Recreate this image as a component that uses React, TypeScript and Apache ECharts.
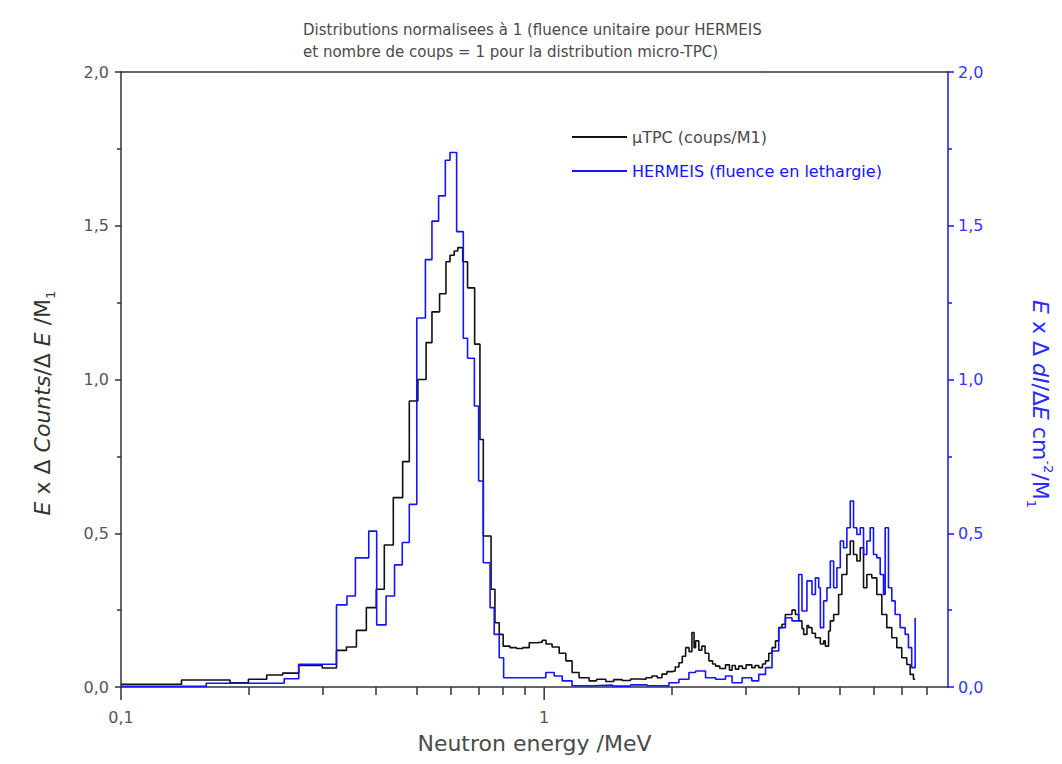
import React, { useEffect, useRef } from "react";
import * as echarts from "echarts";

// ---------- data ----------
const titleLines = [
  "Distributions normalisees à 1 (fluence unitaire pour HERMEIS",
  "et nombre de coups = 1 pour la distribution micro-TPC)",
];
const legendNames = ["µTPC (coups/M1)", "HERMEIS (fluence en lethargie)"];
const xAxisTitle = "Neutron energy /MeV";

const X_MIN = 0.1;
const X_MAX = 9;
const xLabelValues = [0.1, 1];
const xTickLabels = ["0,1", "1"];
const xMinorTickValues = [0.2, 0.3, 0.4, 0.5, 0.6, 0.7, 0.8, 0.9, 2, 3, 4, 5, 6, 7, 8];
const yTickValues = [0, 0.5, 1, 1.5, 2];

// µTPC histogram: left bin edges (MeV) and values
const tpcEnergy = [
  0.100, 0.139, 0.181, 0.200, 0.221, 0.241, 0.263, 0.299, 0.323, 0.341,
  0.360, 0.380, 0.401, 0.419, 0.440, 0.463, 0.480, 0.503, 0.526, 0.543,
  0.566, 0.586, 0.599, 0.613, 0.625, 0.642, 0.659, 0.685, 0.705, 0.718,
  0.749, 0.765, 0.783, 0.800, 0.830, 0.860, 0.890, 0.922, 0.960, 0.990,
  1.010, 1.044, 1.085, 1.125, 1.164, 1.209, 1.277, 1.330, 1.398, 1.460,
  1.528, 1.600, 1.675, 1.740, 1.797, 1.850, 1.898, 1.950, 2.004, 2.040,
  2.082, 2.120, 2.159, 2.200, 2.234, 2.260, 2.279, 2.320, 2.358, 2.400,
  2.450, 2.500, 2.541, 2.600, 2.682, 2.740, 2.780, 2.830, 2.883, 2.940,
  3.000, 3.095, 3.150, 3.214, 3.280, 3.334, 3.394, 3.455, 3.520, 3.583,
  3.648, 3.715, 3.783, 3.851, 3.923, 3.994, 4.066, 4.104, 4.178, 4.217,
  4.294, 4.374, 4.412, 4.494, 4.575, 4.617, 4.700, 4.744, 4.831, 4.963,
  5.052, 5.191, 5.288, 5.383, 5.481, 5.583, 5.684, 5.787, 5.946, 6.110,
  6.278, 6.450, 6.628, 6.811, 6.998, 7.190, 7.325, 7.457, 7.527,
];
const tpcCounts = [
  0.009, 0.023, 0.014, 0.025, 0.039, 0.045, 0.070, 0.062, 0.119, 0.130,
  0.184, 0.258, 0.318, 0.462, 0.616, 0.733, 0.930, 1.000, 1.120, 1.220,
  1.279, 1.383, 1.404, 1.418, 1.429, 1.383, 1.298, 1.115, 0.805, 0.491,
  0.318, 0.209, 0.171, 0.133, 0.128, 0.125, 0.128, 0.144, 0.146, 0.152,
  0.140, 0.130, 0.110, 0.085, 0.047, 0.030, 0.020, 0.025, 0.018, 0.024,
  0.021, 0.026, 0.025, 0.030, 0.036, 0.030, 0.042, 0.050, 0.052, 0.065,
  0.079, 0.100, 0.128, 0.115, 0.177, 0.128, 0.150, 0.120, 0.133, 0.110,
  0.085, 0.075, 0.068, 0.060, 0.072, 0.055, 0.070, 0.058, 0.068, 0.060,
  0.072, 0.063, 0.070, 0.063, 0.075, 0.085, 0.110, 0.128, 0.150, 0.193,
  0.204, 0.236, 0.236, 0.250, 0.236, 0.215, 0.190, 0.171, 0.200, 0.193,
  0.175, 0.160, 0.160, 0.140, 0.150, 0.133, 0.182, 0.215, 0.236, 0.301,
  0.366, 0.431, 0.475, 0.431, 0.410, 0.453, 0.323, 0.366, 0.355, 0.301,
  0.236, 0.193, 0.160, 0.128, 0.095, 0.073, 0.041, 0.025, 0.025,
];

// HERMEIS histogram: left bin edges (MeV) and values
const hermeisEnergy = [
  0.100, 0.159, 0.243, 0.263, 0.323, 0.342, 0.358, 0.385, 0.402, 0.423,
  0.443, 0.462, 0.480, 0.500, 0.524, 0.543, 0.563, 0.584, 0.599, 0.621,
  0.644, 0.659, 0.684, 0.700, 0.718, 0.745, 0.762, 0.783, 0.802, 0.900,
  1.009, 1.056, 1.103, 1.164, 1.300, 1.450, 1.600, 1.750, 1.971, 2.082,
  2.198, 2.279, 2.406, 2.541, 2.682, 2.780, 2.936, 3.095, 3.214, 3.334,
  3.455, 3.583, 3.715, 3.851, 3.994, 4.066, 4.178, 4.294, 4.374, 4.453,
  4.494, 4.575, 4.658, 4.744, 4.831, 4.917, 5.009, 5.099, 5.191, 5.288,
  5.383, 5.481, 5.583, 5.684, 5.787, 5.894, 6.001, 6.110, 6.223, 6.336,
  6.394, 6.510, 6.628, 6.751, 6.937, 7.128, 7.257, 7.388, 7.527,
];
const hermeisFluence = [
  0.002, 0.012, 0.027, 0.074, 0.267, 0.296, 0.420, 0.507, 0.202, 0.296,
  0.397, 0.470, 0.594, 1.200, 1.390, 1.515, 1.597, 1.713, 1.738, 1.481,
  1.134, 1.069, 0.914, 0.670, 0.404, 0.258, 0.171, 0.095, 0.030, 0.030,
  0.047, 0.036, 0.020, 0.004, 0.006, 0.003, 0.007, 0.004, 0.014, 0.025,
  0.047, 0.052, 0.030, 0.025, 0.036, 0.014, 0.030, 0.020, 0.041, 0.063,
  0.117, 0.193, 0.225, 0.215, 0.366, 0.247, 0.345, 0.301, 0.355, 0.323,
  0.193, 0.280, 0.323, 0.410, 0.323, 0.388, 0.475, 0.453, 0.518, 0.605,
  0.518, 0.496, 0.518, 0.431, 0.475, 0.518, 0.431, 0.420, 0.366, 0.301,
  0.518, 0.323, 0.280, 0.236, 0.193, 0.171, 0.128, 0.063, 0.225,
];

// ---------- styles ----------
const FONT = "'DejaVu Sans', 'Liberation Sans', sans-serif";
const BLACK = "#111111";
const BLUE = "#1414ff";
const GREY_TEXT = "#4a4a4a";
const AXIS_GREY = "#333333";
const MINOR_TICK_LEN = 8;
const MAJOR_TICK_LEN = 13;

const fmtComma = (v: number) => v.toFixed(1).replace(".", ",");

export default function App() {
  const ref = useRef<HTMLDivElement>(null);

  useEffect(() => {
    if (!ref.current) return;
    const chart = echarts.init(ref.current, undefined, { renderer: "svg" });

    const lmin = Math.log10(X_MIN);
    const lmax = Math.log10(X_MAX);
    const majorLogs = xLabelValues.map((v) => Math.log10(v));
    const minorLogs = xMinorTickValues.map((v) => Math.log10(v));

    const xLabelFormatter = (v: number) => {
      for (let i = 0; i < majorLogs.length; i++) {
        if (Math.abs(majorLogs[i] - v) < 1e-6) return xTickLabels[i];
      }
      return "";
    };

    const yAxisCommon = {
      type: "value",
      min: yTickValues[0],
      max: yTickValues[yTickValues.length - 1],
      interval: 0.5,
      splitLine: { show: false },
    };

    const option: any = {
      animation: false,
      backgroundColor: "#ffffff",
      textStyle: { fontFamily: FONT },
      title: {
        text: titleLines.join("\n"),
        left: 298,
        top: 14,
        textStyle: {
          fontFamily: FONT,
          fontSize: 15,
          fontWeight: "normal",
          color: GREY_TEXT,
          lineHeight: 22,
        },
      },
      legend: {
        orient: "vertical",
        left: 567,
        top: 124,
        itemWidth: 55,
        itemHeight: 2,
        itemGap: 18,
        icon: "rect",
        selectedMode: false,
        textStyle: { fontFamily: FONT, fontSize: 16 },
        data: [
          { name: legendNames[0], textStyle: { color: GREY_TEXT } },
          { name: legendNames[1], textStyle: { color: BLUE } },
        ],
      },
      grid: { left: 121, right: 114, top: 72, bottom: 77, containLabel: false },
      xAxis: [
        {
          type: "value",
          min: lmin,
          max: lmax,
          position: "bottom",
          name: xAxisTitle,
          nameLocation: "middle",
          nameGap: 45,
          nameTextStyle: { fontFamily: FONT, fontSize: 22, color: GREY_TEXT },
          axisLine: { show: true, onZero: false, lineStyle: { color: AXIS_GREY, width: 1.5 } },
          axisTick: {
            show: true,
            customValues: minorLogs,
            length: MINOR_TICK_LEN,
            lineStyle: { color: AXIS_GREY, width: 1.5 },
          },
          axisLabel: {
            customValues: majorLogs,
            formatter: xLabelFormatter,
            margin: 22,
            fontSize: 16,
            color: "#555555",
            fontFamily: FONT,
          },
          splitLine: { show: false },
        },
        {
          type: "value",
          min: lmin,
          max: lmax,
          position: "top",
          axisLine: { show: true, onZero: false, lineStyle: { color: AXIS_GREY, width: 1.5 } },
          axisTick: { show: false },
          axisLabel: { show: false },
          splitLine: { show: false },
        },
      ],
      yAxis: [
        {
          ...yAxisCommon,
          position: "left",
          axisLine: { show: true, onZero: false, lineStyle: { color: AXIS_GREY, width: 1.5 } },
          axisTick: { show: true, length: 6, lineStyle: { color: AXIS_GREY, width: 1.5 } },
          minorTick: { show: true, splitNumber: 2, length: 4, lineStyle: { color: AXIS_GREY, width: 1.5 } },
          axisLabel: { formatter: fmtComma, color: "#555555", fontSize: 16, margin: 12, fontFamily: FONT },
        },
        {
          ...yAxisCommon,
          position: "right",
          axisLine: { show: true, onZero: false, lineStyle: { color: BLUE, width: 1.5 } },
          axisTick: { show: true, length: 6, lineStyle: { color: BLUE, width: 1.5 } },
          minorTick: { show: true, splitNumber: 2, length: 4, lineStyle: { color: BLUE, width: 1.5 } },
          axisLabel: { formatter: fmtComma, color: "#3535ff", fontSize: 16, margin: 10, fontFamily: FONT },
        },
      ],
      series: [
        {
          name: legendNames[0],
          type: "line",
          step: "end",
          symbol: "none",
          showSymbol: false,
          xAxisIndex: 0,
          yAxisIndex: 0,
          color: BLACK,
          itemStyle: { color: BLACK },
          lineStyle: { color: BLACK, width: 1.6 },
          data: tpcEnergy.map((e, i) => [Math.log10(e), tpcCounts[i]]),
        },
        {
          name: legendNames[1],
          type: "line",
          step: "end",
          symbol: "none",
          showSymbol: false,
          xAxisIndex: 0,
          yAxisIndex: 1,
          color: BLUE,
          itemStyle: { color: BLUE },
          lineStyle: { color: BLUE, width: 1.6 },
          data: hermeisEnergy.map((e, i) => [Math.log10(e), hermeisFluence[i]]),
        },
      ],
      graphic: [
        {
          id: "ylabel-left",
          type: "text",
          x: 42,
          y: 403,
          rotation: Math.PI / 2,
          style: {
            text: "{i|E}{n| x Δ }{i|Counts}{n|/Δ }{i|E}{n| /M}{s|1}",
            align: "center",
            verticalAlign: "middle",
            fill: "#333333",
            fontFamily: FONT,
            fontSize: 22,
            rich: {
              n: { fontSize: 22, fontFamily: FONT, fill: "#333333", lineHeight: 30 },
              i: { fontSize: 22, fontFamily: FONT, fontStyle: "italic", fill: "#333333", lineHeight: 30 },
              s: { fontSize: 13, fontFamily: FONT, fill: "#333333", lineHeight: 13, verticalAlign: "bottom" },
            },
          },
        },
        {
          id: "ylabel-right",
          type: "text",
          x: 1040,
          y: 404,
          rotation: -Math.PI / 2,
          style: {
            text: "{i|E}{n| x Δ }{i|dI}{n|/Δ}{i|E}{n| cm}{p|-2}{n|/M}{s|1}",
            align: "center",
            verticalAlign: "middle",
            fill: BLUE,
            fontFamily: FONT,
            fontSize: 22,
            rich: {
              n: { fontSize: 22, fontFamily: FONT, fill: "#2a2aff", lineHeight: 30 },
              i: { fontSize: 22, fontFamily: FONT, fontStyle: "italic", fill: "#2a2aff", lineHeight: 30 },
              s: { fontSize: 13, fontFamily: FONT, fill: "#2a2aff", lineHeight: 13, verticalAlign: "bottom" },
              p: { fontSize: 13, fontFamily: FONT, fill: "#2a2aff", lineHeight: 13, verticalAlign: "top" },
            },
          },
        },
      ],
    };

    chart.setOption(option);

    // longer major ticks (0,1 and 1), placed through the axis scales
    const y0 = chart.convertToPixel({ yAxisIndex: 0 }, 0) as number;
    const majorTicks = majorLogs.map((lv, i) => {
      const px = chart.convertToPixel({ xAxisIndex: 0 }, lv) as number;
      return {
        id: "major-tick-" + i,
        type: "line",
        shape: { x1: px, y1: y0, x2: px, y2: y0 + MAJOR_TICK_LEN },
        style: { stroke: AXIS_GREY, lineWidth: 1.5 },
        z: 10,
      };
    });
    chart.setOption({ graphic: majorTicks });

    return () => chart.dispose();
  }, []);

  return (
    <div
      ref={ref}
      style={{ position: "fixed", left: 0, top: 0, width: 1062, height: 764, background: "#ffffff" }}
    />
  );
}
